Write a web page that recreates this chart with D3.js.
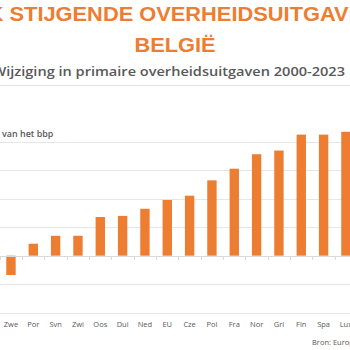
<!DOCTYPE html>
<html>
<head>
<meta charset="utf-8">
<script src="https://cdn.jsdelivr.net/npm/d3@7"></script>
<style>
html,body{margin:0;padding:0;background:#fff;overflow:hidden;}
svg{display:block;}
</style>
</head>
<body>
<svg id="chart" width="350" height="350"></svg>
<script>
const categories = ["Zwe","Por","Svn","Zwi","Oos","Dui","Ned","EU","Cze","Pol","Fra","Nor","Grl","Fin","Spa","Lux"];
const values = [-0.68,0.42,0.70,0.70,1.36,1.40,1.65,1.96,2.11,2.65,3.06,3.57,3.70,4.26,4.26,4.36];
const yTicks = [-2,-1,0,1,2,3,4];
const titleLine1 = "STERK STIJGENDE OVERHEIDSUITGAVEN";
const titleLine2 = "BELGIË";
const subtitle = "Wijziging in primaire overheidsuitgaven 2000-2023";
const unitLabel = "% van het bbp";
const source = "Bron: Europese Commissie";

const orange = "#ED7D31";
const svg = d3.select("#chart");
const SX = 1.12;

const titleFont = "Liberation Sans, Arial, sans-serif";
const tSize = 19.5;

// Title line 1: shift so that the 7th character ("S" of STIJGENDE) lands at x≈9.5
const t1 = svg.append("g").attr("transform", `translate(9.5,21) scale(${SX},1)`)
  .append("text")
  .attr("x", 0).attr("y", 0)
  .attr("font-family", titleFont)
  .attr("font-weight","bold").attr("font-size",tSize).attr("fill",orange)
  .text(titleLine1);
t1.attr("x", -t1.node().getStartPositionOfChar(6).x);

svg.append("g").attr("transform", `translate(175,52.3) scale(${SX},1)`)
  .append("text")
  .attr("x", 0).attr("y", 0).attr("text-anchor","middle")
  .attr("font-family", titleFont)
  .attr("font-weight","bold").attr("font-size",tSize).attr("fill",orange)
  .text(titleLine2);

svg.append("g").attr("transform", `translate(345,76) scale(${SX},1)`)
  .append("text")
  .attr("x", 0).attr("y", 0).attr("text-anchor","end")
  .attr("font-family","Open Sans, sans-serif")
  .attr("font-weight",600).attr("font-size",13).attr("fill","#595959")
  .text(subtitle);

svg.append("line").attr("x1",0).attr("x2",350).attr("y1",85.5).attr("y2",85.5)
  .attr("stroke","#e3e3e3").attr("stroke-width",1);

// unit label, "% " off-canvas on the left
const u = svg.append("g").attr("transform", `translate(2,137) scale(${SX},1)`)
  .append("text")
  .attr("x", 0).attr("y", 0)
  .attr("font-family", "Open Sans, sans-serif")
  .attr("font-weight",600).attr("font-size",8).attr("fill","#595959")
  .text(unitLabel);
u.attr("x", -u.node().getStartPositionOfChar(2).x);

const x = d3.scaleBand().domain(categories).range([-0.2, 357.1])
  .paddingInner(0.58).paddingOuter(0.29);
const y = d3.scaleLinear().domain([-2,4]).range([312.5,142]);

// gridlines
svg.append("g").selectAll("line").data(yTicks.filter(t=>t!==0)).join("line")
  .attr("x1",0).attr("x2",350)
  .attr("y1",d=>Math.round(y(d))+0.5).attr("y2",d=>Math.round(y(d))+0.5)
  .attr("stroke","#e6e6e6").attr("stroke-width",1);

// bars
svg.append("g").selectAll("rect").data(categories).join("rect")
  .attr("x",d=>x(d))
  .attr("width",x.bandwidth())
  .attr("y",(d,i)=>y(Math.max(0,values[i])))
  .attr("height",(d,i)=>Math.abs(y(values[i])-y(0)))
  .attr("fill",orange);

// zero axis with tick marks between categories
const zy = Math.round(y(0))+0.5;
svg.append("line").attr("x1",0).attr("x2",350).attr("y1",zy).attr("y2",zy)
  .attr("stroke","#d9d9d9").attr("stroke-width",1);
const step = x.step();
svg.append("g").selectAll("line").data(categories).join("line")
  .attr("x1",d=>Math.round(x(d)-step*0.29)+0.5)
  .attr("x2",d=>Math.round(x(d)-step*0.29)+0.5)
  .attr("y1",zy).attr("y2",zy+3.5)
  .attr("stroke","#d9d9d9").attr("stroke-width",1);

// category labels at bottom
svg.append("g").selectAll("text").data(categories).join("text")
  .attr("x",d=>x(d)+x.bandwidth()/2)
  .attr("y",327)
  .attr("text-anchor","middle")
  .attr("font-family","Open Sans, sans-serif")
  .attr("font-size",7.5).attr("fill","#595959")
  .text(d=>d);

svg.append("text").attr("x",312).attr("y",345)
  .attr("font-family","Open Sans, sans-serif")
  .attr("font-size",7.5).attr("fill","#595959")
  .text(source);
</script>
</body>
</html>
